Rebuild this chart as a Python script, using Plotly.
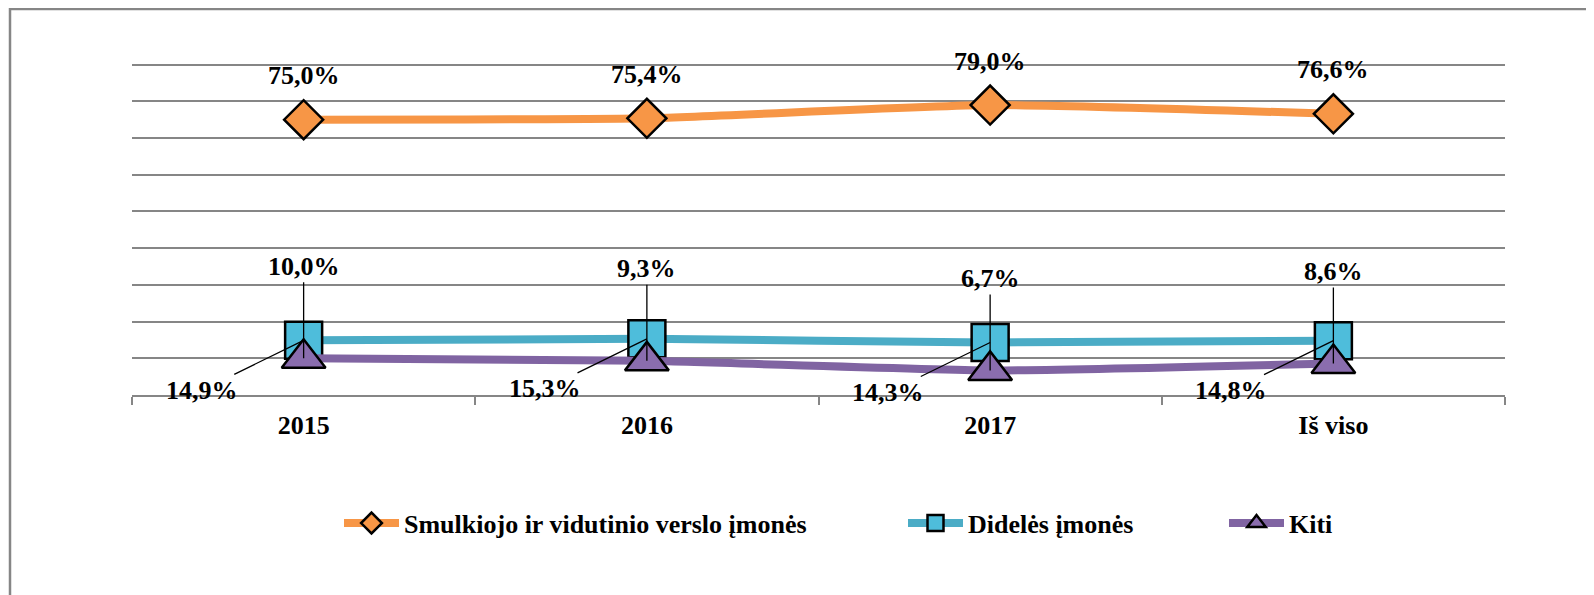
import plotly.graph_objects as go

categories = ["2015", "2016", "2017", "Iš viso"]
smulkiojo = [75.0, 75.4, 79.0, 76.6]
dideles = [14.9, 15.3, 14.3, 14.8]
kiti = [10.0, 9.3, 6.7, 8.6]
series_names = ["Smulkiojo ir vidutinio verslo įmonės", "Didelės įmonės", "Kiti"]

# page offset (default body margin of the html page)
OFF = 8
SW, SH = 1594, 595                 # screenshot size
W, H = SW - OFF, SH - OFF          # figure size
YMAX = 91
L, R, B = 132, 1505, 395           # plot area in screenshot coords
T = B - YMAX * (330 / 90)
FONT = "Liberation Serif"
GRID = "#868686"


def px_x(p):
    return (p - L) / (R - L)


def px_y(p):
    return (B - p) / (B - T)


def fmt(v):
    return f"{v:.1f}".replace(".", ",") + "%"


fig = go.Figure()

fig.add_trace(go.Scatter(
    x=categories, y=smulkiojo, name=series_names[0], mode="lines+markers",
    line=dict(color="#F79646", width=8, shape="spline", smoothing=0.5),
    marker=dict(symbol="diamond", size=30, color="#F79646", line=dict(color="black", width=2.5)),
    cliponaxis=False, legend="legend",
))
fig.add_trace(go.Scatter(
    x=categories, y=dideles, name=series_names[1], mode="lines+markers",
    line=dict(color="#4BACC6", width=8, shape="spline", smoothing=0.5),
    marker=dict(symbol="square", size=37, color="#4EBDDB", line=dict(color="black", width=2.5)),
    cliponaxis=False, legend="legend2",
))
fig.add_trace(go.Scatter(
    x=categories, y=kiti, name=series_names[2], mode="lines+markers",
    line=dict(color="#8064A2", width=8, shape="spline", smoothing=0.5),
    marker=dict(symbol="triangle-up", size=38, color="#8A6DAE", line=dict(color="black", width=2.5)),
    cliponaxis=False, legend="legend3",
))

annotations = []
lab_font = dict(family=FONT, size=26, color="black", weight="bold")
for i, v in enumerate(smulkiojo):
    annotations.append(dict(x=i, y=v, xref="x", yref="y", text=fmt(v), showarrow=False,
                            yshift=44, font=lab_font))
for i, v in enumerate(kiti):
    annotations.append(dict(x=i, y=v, xref="x", yref="y", text=fmt(v), showarrow=True, arrowhead=0,
                            arrowwidth=1.3, arrowcolor="black", ax=0, ay=-92, standoff=0, font=lab_font))
for i, v in enumerate(dideles):
    annotations.append(dict(x=i, y=v, xref="x", yref="y", text=fmt(v), showarrow=True, arrowhead=0,
                            arrowwidth=1.3, arrowcolor="black", ax=-102, ay=50, standoff=0, font=lab_font))

shapes = [
    dict(type="line", xref="paper", yref="paper", x0=px_x(9), x1=px_x(1600), y0=px_y(9.3), y1=px_y(9.3),
         line=dict(color=GRID, width=2.5)),
    dict(type="line", xref="paper", yref="paper", x0=px_x(10), x1=px_x(10), y0=px_y(8), y1=px_y(600),
         line=dict(color=GRID, width=2.5)),
]

leg_common = dict(orientation="h", yanchor="middle", xanchor="left", bgcolor="rgba(0,0,0,0)",
                  visible=True, itemwidth=55,
                  font=dict(family=FONT, size=26, color="black", weight="bold"))

fig.update_layout(
    width=W, height=H, showlegend=True,
    margin=dict(l=L - OFF, r=SW - R, t=T - OFF, b=SH - B, autoexpand=False),
    paper_bgcolor="white", plot_bgcolor="white",
    xaxis=dict(type="category", range=[-0.5, 3.5], showgrid=False, showline=True, linecolor=GRID,
               linewidth=1.5, ticks="outside", tickson="boundaries", ticklen=8, tickcolor=GRID,
               tickwidth=1.5, ticklabelstandoff=6,
               tickfont=dict(family=FONT, size=26, color="black", weight="bold")),
    yaxis=dict(range=[0, YMAX], dtick=10, showgrid=True, gridcolor=GRID, gridwidth=1.5,
               showticklabels=False, zeroline=False, showline=False),
    legend=dict(x=px_x(339), y=px_y(523), **leg_common),
    legend2=dict(x=px_x(903), y=px_y(523), **leg_common),
    legend3=dict(x=px_x(1224), y=px_y(523), **leg_common),
    annotations=annotations,
    shapes=shapes,
)

fig.write_html("out.html")
